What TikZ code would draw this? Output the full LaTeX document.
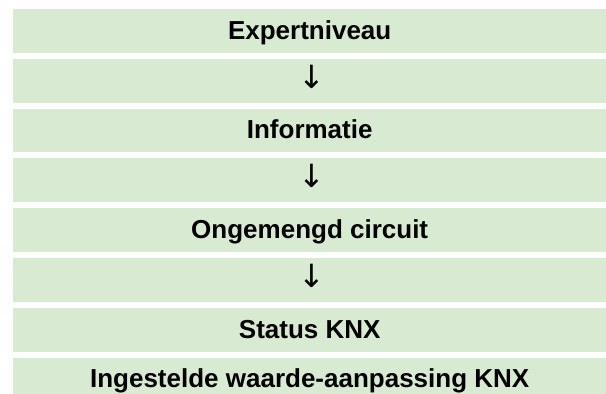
\documentclass[tikz,border=0pt]{standalone}
\usepackage{fontspec}
\setmainfont{Liberation Sans}
\newfontfamily\arrowfont{DejaVu Sans}
\definecolor{rowgreen}{HTML}{D9EAD3}
\begin{document}
\begin{tikzpicture}[x=1pt,y=1pt,
  rowbox/.style={rectangle, fill=rowgreen, draw=none, inner sep=0pt,
    minimum width=594pt, minimum height=43.8pt,
    text height=19pt, text depth=2.2pt,
    font=\fontsize{26}{30}\selectfont\bfseries},
  arrowtext/.style={inner sep=0pt, font=\arrowfont\fontsize{32}{36}\selectfont}]
\useasboundingbox (0,0) rectangle (606,394);
\clip (0,0) rectangle (606,394);
% row tops (image coords): 9 + k*49.8 ; centre = top + 21.9
\node[rowbox] (r1) at (309.7, {394-(9+0*49.8+21.9)}) {Expertniveau};
\node[rowbox] (r2) at (309.7, {394-(9+1*49.8+21.9)}) {};
\node[rowbox] (r3) at (309.7, {394-(9+2*49.8+21.9)}) {Informatie};
\node[rowbox] (r4) at (309.7, {394-(9+3*49.8+21.9)}) {};
\node[rowbox] (r5) at (309.7, {394-(9+4*49.8+21.9)}) {Ongemengd circuit};
\node[rowbox] (r6) at (309.7, {394-(9+5*49.8+21.9)}) {};
\node[rowbox] (r7) at (309.7, {394-(9+6*49.8+21.9)}) {Status KNX};
\node[rowbox] (r8) at (309.7, {394-(9+7*49.8+21.9)}) {Ingestelde waarde-aanpassing KNX};
\node[arrowtext] (a2) at ([shift={(2.5,4)}]r2.center) {↓};
\node[arrowtext] (a4) at ([shift={(2.5,4)}]r4.center) {↓};
\node[arrowtext] (a6) at ([shift={(2.5,4)}]r6.center) {↓};
\end{tikzpicture}
\end{document}
